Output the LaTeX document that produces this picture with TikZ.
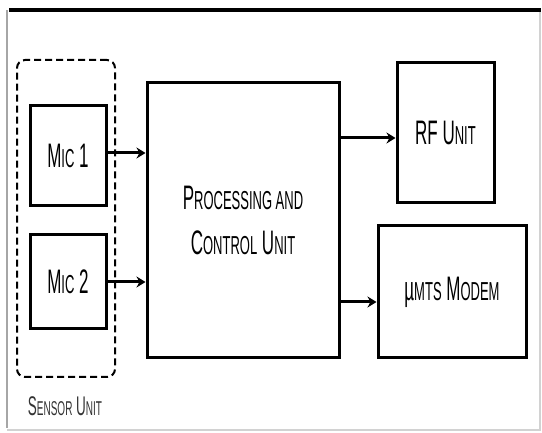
\documentclass[tikz,border=0pt]{standalone}
\usepackage{fontspec}
\usepackage{tikz}
\usetikzlibrary{arrows.meta, positioning, calc}
\newfontfamily\diagfont[FakeStretch=0.5]{Liberation Sans}
\newcommand{\lsc}[1]{{\fontsize{26}{28}\selectfont\MakeUppercase{#1}}}
\newcommand{\slsc}[1]{{\fontsize{20}{22}\selectfont\MakeUppercase{#1}}}

\begin{document}
\begin{tikzpicture}[x=1pt, y=-1pt,
    block/.style={draw, line width=3pt, minimum width=#1, inner sep=0pt,
                  font=\diagfont\fontsize{34}{45}\selectfont, align=center},
    feed/.style={line width=3pt, -{Stealth[length=9pt, width=11pt]}},
]
    \useasboundingbox (0,0) rectangle (542,433);

    % outer frame
    \draw[gray!70, line width=2pt, rounded corners=6pt] (7,428) -- (7,10);
    \draw[gray!35, line width=1.5pt] (7,430) -- (540,430) -- (540,10);
    \draw[line width=4.5pt] (9,10) -- (541,10);

    % sensor unit
    \node[draw, dashed, line width=2pt, dash pattern=on 7pt off 4pt, rounded corners=8pt,
          minimum width=98pt, minimum height=317pt] (sensor) at (66,218.5) {};
    \node[font=\diagfont\fontsize{27}{30}\selectfont, gray!40!black] (sensorlbl) at (65,406) {S\slsc{ensor} U\slsc{nit}};
    \node[block=76pt, minimum height=100pt] (mic1) at (68,156) {M\lsc{ic} 1};
    \node[block=76pt, minimum height=94pt] (mic2) at (68,282) {M\lsc{ic} 2};

    % processing, rf and modem
    \node[block=192pt, minimum height=275pt] (proc) at (243,220.5)
        {P\lsc{rocessing and}\\C\lsc{ontrol} U\lsc{nit}};
    \node[block=97pt, minimum height=140pt] (rf) at (445.5,133) {RF U\lsc{nit}};
    \node[block=148pt, minimum height=132pt] (modem) at (452,292) {\textmu\lsc{mts} M\lsc{odem}};

    \draw[feed] ([yshift=3pt]mic1.east) -- ([yshift=3pt]mic1.east -| proc.west);
    \draw[feed] (mic2.east) -- (mic2.east -| proc.west);
    \draw[feed] ([yshift=-5pt]rf.west -| proc.east) -- ([yshift=-5pt]rf.west);
    \draw[feed] ([yshift=-10pt]modem.west -| proc.east) -- ([yshift=-10pt]modem.west);
\end{tikzpicture}
\end{document}
